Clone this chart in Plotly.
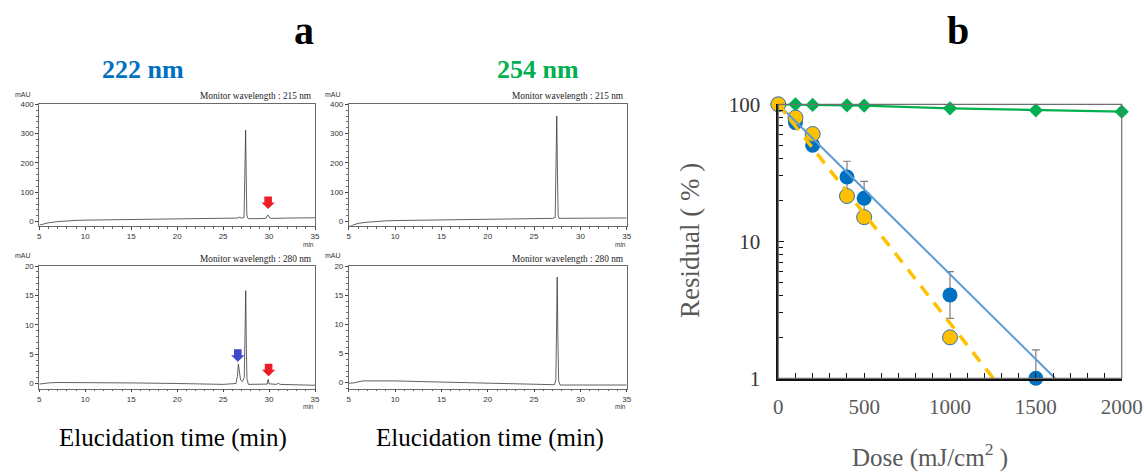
import plotly.graph_objects as go

W, H = 1144, 474

# ---------------- data: chromatograms (time in min, absorbance in mAU) ----------------
tl_time = [5, 5.5, 6, 7, 8, 9, 10, 12, 15, 18, 20, 23, 25, 26.5, 26.8, 27.0, 27.28, 27.36,
           27.45, 27.52, 27.58, 27.68, 27.8, 28.5, 29.65, 29.8, 29.9, 30.05, 30.3, 32, 35]
tl_mau = [-12, -7, -4, 0, 3, 4, 5, 6, 7, 7.5, 8, 9, 10, 12, 15, 12, 14, 140,
          312, 150, 25, 12, 10, 10, 11, 20, 22, 13, 11, 12, 13]

tr_time = [5, 5.5, 6, 7, 8, 9, 10, 15, 20, 25, 27.0, 27.28, 27.37, 27.45, 27.53, 27.6, 27.7, 30, 35]
tr_mau = [-17, -11, -6, -2, 1, 2.5, 3.5, 6, 8, 10, 11, 14, 170, 360, 160, 20, 11, 11, 12.5]

bl_time = [5, 6, 7, 10, 15, 20, 23, 25, 26.4, 26.55, 26.66, 26.75, 26.9, 27.1, 27.3, 27.38,
           27.46, 27.53, 27.6, 27.75, 29.0, 29.8, 29.9, 30.0, 30.8, 31.0, 31.2, 33, 35]
bl_mau = [-0.1, 0.1, 0.17, 0.17, 0.1, 0.0, -0.1, -0.15, 0.0, 1.2, 3.3, 1.8, 0.6, 0.3, 1.0, 8,
          15.8, 6, 0.8, -0.15, -0.15, -0.1, 0.7, -0.05, -0.15, 0.05, -0.15, -0.25, -0.3]

br_time = [5, 5.5, 6.5, 8, 10, 15, 20, 25, 27.2, 27.35, 27.43, 27.5, 27.57, 27.65, 27.8, 30, 35]
br_mau = [-0.1, -0.05, 0.3, 0.35, 0.3, 0.1, -0.05, -0.3, -0.35, 0.5, 9, 18.1, 8, 0.3, -0.4, -0.4, -0.4]

# arrow markers (tip positions) on the 222 nm chromatograms
red_arrow_top = (29.9, 43)
red_arrow_bottom = (29.95, 1.25)
blue_arrow_bottom = (26.6, 3.7)

# ---------------- data: panel b (dose in mJ/cm2, residual in %) ----------------
dose_green = [0, 100, 200, 400, 500, 1000, 1500, 2000]
resid_green = [100, 100, 98.9, 98.3, 97.8, 93.5, 90.4, 88.4]

dose_blue = [0, 100, 200, 400, 500, 1000, 1500]
resid_blue = [100, 73.5, 50.2, 29.5, 20.6, 4.06, 1.0]
err_blue_up = [0, 0, 0, 8.9, 6.8, 1.94, 0.61]
err_blue_down = [0, 0, 0, 8.9, 6.8, 1.32, 0]

dose_yellow = [0, 100, 200, 400, 500, 1000]
resid_yellow = [100, 80, 60.7, 21.4, 15.0, 1.99]

fit_blue_dose = [0, 1612]
fit_blue_resid = [100, 1]
fit_yellow_dose = [0, 1252]
fit_yellow_resid = [100, 1]

dose_ticks = [0, 500, 1000, 1500, 2000]
resid_ticks = [1, 10, 100]


# ---------------- helpers ----------------
def xdom(a, b):
    return [a / W, b / W]


def ydom(top, bottom):
    return [1 - bottom / H, 1 - top / H]


def px(x):
    return x / W


def py(y):
    return 1 - y / H


fig = go.Figure()

chrom_line = dict(color="#3a3a3a", width=0.8)
panels = [
    ("x", "y", tl_time, tl_mau),
    ("x2", "y2", tr_time, tr_mau),
    ("x3", "y3", bl_time, bl_mau),
    ("x4", "y4", br_time, br_mau),
]
for xa, ya, t, m in panels:
    fig.add_trace(go.Scatter(x=t, y=m, mode="lines", line=chrom_line, xaxis=xa, yaxis=ya,
                             showlegend=False, hoverinfo="skip"))

# ---- panel b traces ----
fig.add_trace(go.Scatter(x=dose_green, y=resid_green, mode="lines+markers", xaxis="x5", yaxis="y5",
                         line=dict(color="#00B050", width=2.2),
                         marker=dict(symbol="diamond", size=11, color="#00B050"),
                         cliponaxis=False, showlegend=False))
fig.add_trace(go.Scatter(x=dose_blue, y=resid_blue, mode="markers", xaxis="x5", yaxis="y5",
                         marker=dict(symbol="circle", size=15, color="#0070C0"),
                         error_y=dict(type="data", array=err_blue_up, arrayminus=err_blue_down,
                                      symmetric=False, color="#7f7f7f", thickness=1.2, width=4),
                         cliponaxis=False, showlegend=False))
fig.add_trace(go.Scatter(x=dose_yellow, y=resid_yellow, mode="markers", xaxis="x5", yaxis="y5",
                         marker=dict(symbol="circle", size=15, color="#FFC000",
                                     line=dict(color="#2E75B6", width=1)),
                         cliponaxis=False, showlegend=False))
fig.add_trace(go.Scatter(x=fit_blue_dose, y=fit_blue_resid, mode="lines", xaxis="x5", yaxis="y5",
                         line=dict(color="#5B9BD5", width=2), showlegend=False))
fig.add_trace(go.Scatter(x=fit_yellow_dose, y=fit_yellow_resid, mode="lines", xaxis="x5", yaxis="y5",
                         line=dict(color="#FFC000", width=3.5, dash="12px,9px"), showlegend=False))

# ---------------- axes ----------------
chrom_common = dict(showline=True, linecolor="#6a6a6a", linewidth=0.8, mirror=True,
                    ticks="outside", ticklen=3, tickwidth=0.8, tickcolor="#444",
                    tickfont=dict(family="Liberation Sans", size=8, color="#333"),
                    showgrid=False, zeroline=False, fixedrange=True, automargin=False)
xchrom = dict(chrom_common, range=[5, 35], tickvals=[5, 10, 15, 20, 25, 30, 35],
              minor=dict(dtick=1, tick0=5, ticks="outside", ticklen=2, tickcolor="#666"))

col_l = xdom(39.3, 315)
col_r = xdom(348.8, 626.7)
row_t = ydom(104.3, 225.7)
row_b = ydom(266, 388.5)

fig.update_layout(
    xaxis=dict(xchrom, domain=col_l, anchor="y"),
    yaxis=dict(chrom_common, domain=row_t, anchor="x", range=[-14, 400], dtick=100,
               minor=dict(dtick=20, ticks="outside", ticklen=2, tickcolor="#666")),
    xaxis2=dict(xchrom, domain=col_r, anchor="y2"),
    yaxis2=dict(chrom_common, domain=row_t, anchor="x2", range=[-14, 400], dtick=100,
                minor=dict(dtick=20, ticks="outside", ticklen=2, tickcolor="#666")),
    xaxis3=dict(xchrom, domain=col_l, anchor="y3"),
    yaxis3=dict(chrom_common, domain=row_b, anchor="x3", range=[-0.85, 20], dtick=5,
                minor=dict(dtick=1, ticks="outside", ticklen=2, tickcolor="#666")),
    xaxis4=dict(xchrom, domain=col_r, anchor="y4"),
    yaxis4=dict(chrom_common, domain=row_b, anchor="x4", range=[-1.0, 20], dtick=5,
                minor=dict(dtick=1, ticks="outside", ticklen=2, tickcolor="#666")),
    xaxis5=dict(domain=xdom(778.3, 1121.7), anchor="y5", range=[0, 2000],
                tickvals=dose_ticks, ticks="inside", ticklen=6, tickwidth=1.2, tickcolor="#111",
                minor=dict(dtick=100, tick0=0, ticks="inside", ticklen=6, tickcolor="#111", tickwidth=1),
                showline=True, linecolor="#111", linewidth=2.5, showgrid=False, zeroline=False,
                ticklabelstandoff=8, automargin=False,
                tickfont=dict(family="Liberation Serif", size=21, color="#595959"), fixedrange=True),
    yaxis5=dict(domain=ydom(104.3, 378.3), anchor="x5", type="log", range=[0, 2],
                tickvals=resid_ticks, ticktext=[str(v) for v in resid_ticks],
                ticks="inside", ticklen=6, tickwidth=1.2, tickcolor="#111",
                minor=dict(tickmode="array",
                           tickvals=[2, 3, 4, 5, 6, 7, 8, 9, 20, 30, 40, 50, 60, 70, 80, 90],
                           ticks="inside", ticklen=5, tickcolor="#111", tickwidth=1),
                showline=True, linecolor="#111", linewidth=1.6, showgrid=False, zeroline=False,
                ticklabelstandoff=12, automargin=False,
                tickfont=dict(family="Liberation Serif", size=21, color="#333"), fixedrange=True),
)

# ---------------- shapes: frame of panel b and red / blue arrows ----------------
shapes = [dict(type="rect", xref="x5 domain", yref="y5 domain", x0=0, x1=1, y0=0, y1=1,
               line=dict(color="#6f6f6f", width=1.2), layer="above")]
arrow_path = "M0,0 L-6.7,6.5 L-3.8,6.5 L-3.8,12.5 L3.8,12.5 L3.8,6.5 L6.7,6.5 Z"
for (ax, ay), xr, yr, col in [
    (red_arrow_top, "x", "y", "#EE1C25"),
    (red_arrow_bottom, "x3", "y3", "#EE1C25"),
    (blue_arrow_bottom, "x3", "y3", "#3F48CC"),
]:
    shapes.append(dict(type="path", xref=xr, yref=yr, xsizemode="pixel", ysizemode="pixel",
                       xanchor=ax, yanchor=ay, path=arrow_path, fillcolor=col,
                       line=dict(width=0), layer="above"))

# ---------------- annotations ----------------
ann = []
serif = "Liberation Serif"
sans = "Liberation Sans"


def text(x, y, s, size, color="#000", family=serif, bold=False, xanchor="center",
         yanchor="middle", angle=0):
    ann.append(dict(x=px(x), y=py(y), xref="paper", yref="paper", text=("<b>%s</b>" % s) if bold else s,
                    showarrow=False, xanchor=xanchor, yanchor=yanchor, textangle=angle,
                    font=dict(family=family, size=size, color=color)))


text(304, 31, "a", 40, bold=True)
text(958, 31, "b", 40, bold=True)
text(143, 70, "222 nm", 26, color="#0070C0", bold=True)
text(538, 70, "254 nm", 26, color="#00B050", bold=True)

for x_left, x_right in [(39.3, 315), (348.8, 626.7)]:
    text(x_right - 1, 96, "Monitor wavelength : 215 nm", 9.3, color="#222", xanchor="right")
    text(x_right - 1, 259, "Monitor wavelength : 280 nm", 9.3, color="#222", xanchor="right")
    text(x_left - 26, 94, "mAU", 7, color="#333", family=sans, xanchor="left")
    text(x_left - 26, 255, "mAU", 7, color="#333", family=sans, xanchor="left")
    text(x_right + 1, 244.5, "min", 6.5, color="#333", family=sans, xanchor="right")
    text(x_right + 1, 406.5, "min", 6.5, color="#333", family=sans, xanchor="right")

text(173, 438, "Elucidation time (min)", 25)
text(490, 438, "Elucidation time (min)", 25)

text(690, 241, "Residual ( % )", 27, color="#595959", angle=-90)
text(930, 474, "Dose (mJ/cm<sup>2</sup> )", 25, color="#595959", yanchor="bottom")

fig.update_layout(
    width=W, height=H, margin=dict(l=0, r=0, t=0, b=0),
    paper_bgcolor="white", plot_bgcolor="white",
    shapes=shapes, annotations=ann, showlegend=False,
)

fig.write_html("out.html")
